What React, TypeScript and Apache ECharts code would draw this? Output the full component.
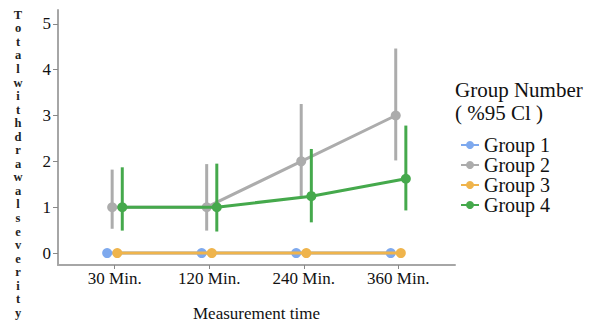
import React, { useEffect, useRef } from "react";
import * as echarts from "echarts";

const categories = ["30 Min.", "120 Min.", "240 Min.", "360 Min."];
const yTicks = [0, 1, 2, 3, 4, 5];
const groupNames = ["Group 1", "Group 2", "Group 3", "Group 4"];
const groupColors = ["#7ea9ee", "#acacac", "#efb44c", "#45a94c"];
const groupOffsets = [-0.08, -0.027, 0.027, 0.08];

const group1Mean = [0, 0, 0, 0];
const group1Low = [0, 0, 0, 0];
const group1High = [0, 0, 0, 0];

const group2Mean = [1.0, 1.0, 2.0, 3.0];
const group2Low = [0.53, 0.49, 1.24, 2.02];
const group2High = [1.82, 1.94, 3.25, 4.46];

const group3Mean = [0, 0, 0, 0];
const group3Low = [0, 0, 0, 0];
const group3High = [0, 0, 0, 0];

const group4Mean = [1.0, 1.0, 1.24, 1.62];
const group4Low = [0.49, 0.47, 0.67, 0.93];
const group4High = [1.87, 1.95, 2.27, 2.78];

const means = [group1Mean, group2Mean, group3Mean, group4Mean];
const lows = [group1Low, group2Low, group3Low, group4Low];
const highs = [group1High, group2High, group3High, group4High];

const yTitle = "Totalwithdrawalseverity";
const FONT = "'Liberation Serif', 'Times New Roman', serif";

export default function App() {
  const ref = useRef<HTMLDivElement>(null);
  useEffect(() => {
    document.body.style.margin = "0";
    if (!ref.current) return;
    const chart = echarts.init(ref.current, null, { renderer: "svg" });
    const series: any[] = [];
    const zOrder = [0, 2, 1, 3];
    groupNames.forEach((name, g) => {
      const base = 2 + zOrder[g] * 2;
      series.push({
        type: "custom",
        xAxisIndex: 0,
        yAxisIndex: 0,
        z: base,
        silent: true,
        data: means[g].map((_, i) => [i + groupOffsets[g], lows[g][i], highs[g][i]]),
        renderItem: (params: any, api: any) => {
          const x = api.value(0);
          const lo = api.value(1);
          const hi = api.value(2);
          if (hi - lo <= 0) return { type: "group", children: [] };
          const p1 = api.coord([x, lo]);
          const p2 = api.coord([x, hi]);
          return {
            type: "line",
            shape: { x1: p1[0], y1: p1[1], x2: p2[0], y2: p2[1] },
            style: { stroke: groupColors[g], lineWidth: 3 },
          };
        },
      });
      series.push({
        type: "line",
        name,
        z: base + 1,
        data: means[g].map((v, i) => [i + groupOffsets[g], v]),
        symbol: "circle",
        symbolSize: 10,
        showSymbol: true,
        itemStyle: { color: groupColors[g] },
        lineStyle: { color: groupColors[g], width: 3 },
      });
    });

    chart.setOption({
      animation: false,
      grid: { left: 58, right: 140, top: 10, bottom: 57, containLabel: false },
      xAxis: {
        type: "value",
        min: -0.6,
        max: 3.6,
        splitLine: { show: false },
        axisLine: { show: true, onZero: false, lineStyle: { color: "#a6a6a6", width: 2 } },
        axisTick: {
          show: true,
          customValues: [0, 1, 2, 3],
          length: 4,
          lineStyle: { color: "#888888", width: 1 },
        },
        axisLabel: {
          customValues: [0, 1, 2, 3],
          formatter: (v: number) => categories[Math.round(v)] ?? "",
          color: "#111",
          fontFamily: FONT,
          fontSize: 17,
          margin: 5,
        },
        name: "Measurement time",
        nameLocation: "middle",
        nameGap: 40,
        nameTextStyle: { color: "#111", fontFamily: FONT, fontSize: 17 },
      },
      yAxis: {
        type: "value",
        min: -0.26,
        max: 5.3,
        splitLine: { show: false },
        axisLine: { show: true, onZero: false, lineStyle: { color: "#a6a6a6", width: 2 } },
        axisTick: {
          show: true,
          customValues: yTicks,
          length: 5,
          lineStyle: { color: "#888888", width: 1 },
        },
        axisLabel: {
          customValues: yTicks,
          formatter: (v: number) => String(Math.round(v)),
          color: "#111",
          fontFamily: FONT,
          fontSize: 17,
          margin: 7,
        },
      },
      legend: {
        data: groupNames,
        orient: "vertical",
        left: 455,
        top: 130,
        itemWidth: 18,
        itemHeight: 10,
        itemGap: 0,
        textStyle: { color: "#111", fontFamily: FONT, fontSize: 20, lineHeight: 20 },
      },
      graphic: [
        {
          type: "text",
          left: 455,
          top: 78,
          style: {
            text: "Group Number\n( %95 Cl )",
            fontFamily: FONT,
            fontSize: 21,
            lineHeight: 23,
            fill: "#111",
          },
        },
        {
          type: "text",
          x: 18,
          y: 8,
          style: {
            text: yTitle.split("").join("\n"),
            fontFamily: FONT,
            fontSize: 12.5,
            fontWeight: "bold",
            lineHeight: 13.55,
            align: "center",
            fill: "#222",
          },
        },
      ],
      series,
    });
    return () => chart.dispose();
  }, []);
  return <div ref={ref} style={{ width: 595, height: 327 }} />;
}
